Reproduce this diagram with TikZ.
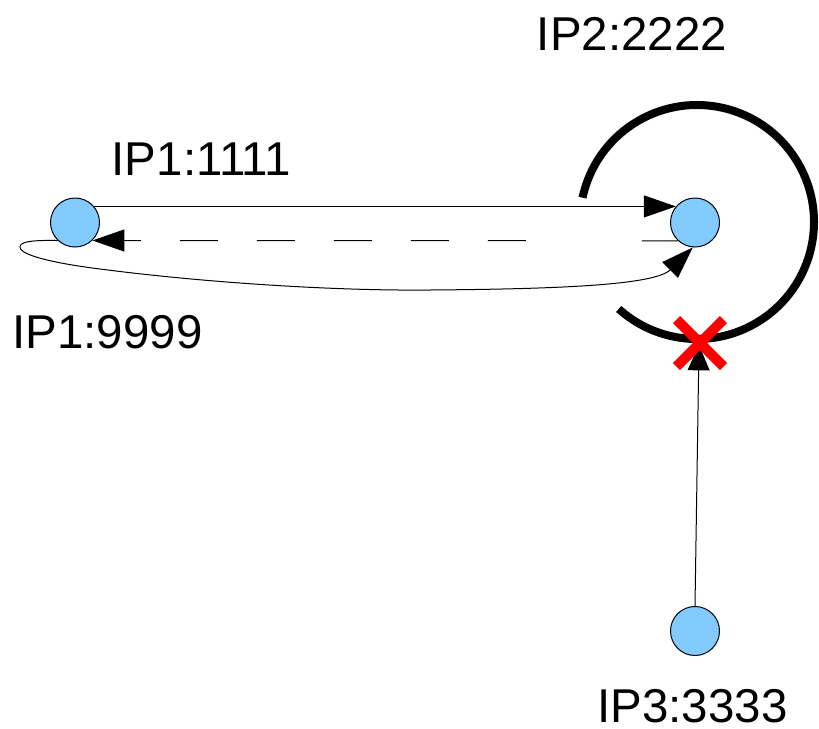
\documentclass[tikz,border=0pt]{standalone}
\usepackage{fontspec}
\setmainfont{Liberation Sans}
\usetikzlibrary{arrows.meta,calc}
\definecolor{hostblue}{RGB}{131,202,255}
\definecolor{cutred}{RGB}{255,0,0}
\begin{document}
\begin{tikzpicture}[x=0.75pt,y=0.75pt,
  host/.style={circle,draw=black,line width=0.75pt,fill=hostblue,inner sep=0pt,minimum size=36.75pt},
  addr/.style={anchor=base,inner sep=0pt,font=\fontsize{35.6pt}{40pt}\selectfont},
  link/.style={draw=black,line width=0.75pt,-{Triangle[length=24pt,width=16.5pt]}},
  tiplink/.style={draw=black,line width=0.75pt,-{Triangle[length=19pt,width=16.5pt]}},
  loopring/.style={draw=black,line width=6pt,line cap=butt},
  cutmark/.style={draw=cutred,line width=7.5pt,line cap=butt}]
\useasboundingbox (0,0) rectangle (819,-729);

% hosts
\node[host] (A) at (75,-222.5) {};
\node[host] (B) at (695,-222.5) {};
\node[host] (C) at (695,-631) {};

% address labels
\node[addr] (lblB) at (632,-50) {IP2:2222};
\node[addr] (lblA) at (201.5,-175) {IP1:1111};
\node[addr] (lblN) at (107.5,-348) {IP1:9999};
\node[addr] (lblC) at (692.5,-722) {IP3:3333};

% loop drawn around IP2
\coordinate (ringc) at (697,-222);
\draw[loopring] ($(ringc)+(168:87.75pt)$) arc[start angle=168,end angle=-132,radius=87.75pt];

% IP1 -> IP2 (straight)
\draw[link] (A.40) -- (B.140);

% IP2 -> IP1 (dashed return)
\draw[link,dash pattern=on 27pt off 87pt on 28.5pt off 29.25pt on 28.5pt off 29.25pt on 28.5pt off 29.25pt on 28.5pt off 29.25pt on 28.5pt off 29.25pt on 75pt off 1pt]
  (B.227) -- (A.314);

% IP1 -> IP2 (looping curve under the line)
\draw[link] (A.226) .. controls (30,-240) and (20,-242) .. (20,-247)
  .. controls (20,-256) and (60,-264) .. (100,-269)
  .. controls (200,-282) and (330,-291) .. (430,-290)
  .. controls (560,-289) and (655,-285) .. (B.265);

% IP3 -> loop, blocked
\coordinate (hit) at (699,-345);
\draw[tiplink] (C.north) -- (hit);

% red cross
\coordinate (cut) at (700,-343);
\draw[cutmark] ($(cut)+(-23.5,23.5)$) -- ($(cut)+(23.5,-23.5)$);
\draw[cutmark] ($(cut)+(-23.5,-23.5)$) -- ($(cut)+(23.5,23.5)$);
\end{tikzpicture}
\end{document}
